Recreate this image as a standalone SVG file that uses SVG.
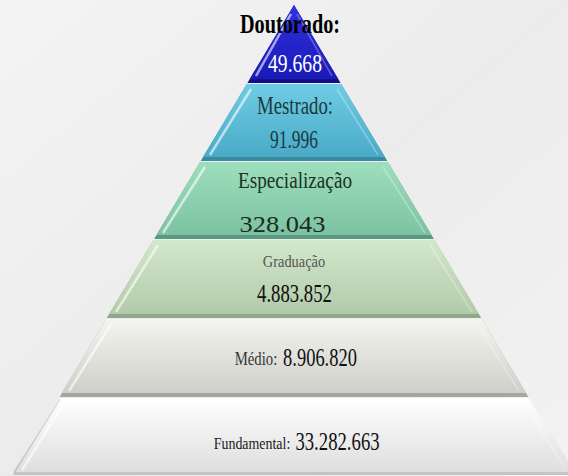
<svg xmlns="http://www.w3.org/2000/svg" width="568" height="476" viewBox="0 0 568 476">
<defs>
<linearGradient id="bg" x1="0" y1="0" x2="1" y2="1"><stop offset="0" stop-color="#f4f4f4"/><stop offset="0.5" stop-color="#ececec"/><stop offset="1" stop-color="#f2f2f2"/></linearGradient>
<linearGradient id="gBlue" x1="0" y1="0" x2="0" y2="1"><stop offset="0" stop-color="#3030e0"/><stop offset="1" stop-color="#1a1ab8"/></linearGradient>
<linearGradient id="gCyan" x1="0" y1="0" x2="0" y2="1"><stop offset="0" stop-color="#70cce4"/><stop offset="1" stop-color="#4aaac6"/></linearGradient>
<linearGradient id="gGreen" x1="0" y1="0" x2="0" y2="1"><stop offset="0" stop-color="#9edfbc"/><stop offset="1" stop-color="#7cc2a2"/></linearGradient>
<linearGradient id="gLight" x1="0" y1="0" x2="0" y2="1"><stop offset="0" stop-color="#d4e8cc"/><stop offset="1" stop-color="#b2caaa"/></linearGradient>
<linearGradient id="gGray" x1="0" y1="0" x2="0" y2="1"><stop offset="0" stop-color="#f4f4f0"/><stop offset="1" stop-color="#cfcfc9"/></linearGradient>
<linearGradient id="gWhite" x1="0" y1="0" x2="0" y2="1"><stop offset="0" stop-color="#ffffff"/><stop offset="1" stop-color="#dedede"/></linearGradient>
</defs>
<style>
text{font-family:"Liberation Serif","Times New Roman",serif;text-anchor:middle}
.hl{fill:none;stroke:#ffffff;stroke-opacity:0.6;stroke-width:2.5}
.hr{fill:none;stroke:#ffffff;stroke-opacity:0.3;stroke-width:1.5}
.sh{fill:none;stroke:#000000;stroke-opacity:0.12;stroke-width:1.5}
</style>
<rect x="0" y="0" width="568" height="476" fill="url(#bg)"/>

<g id="fundamental">
<polygon points="59,398 529,398 575.1,475 12.9,475" fill="#c4c4c4"/>
<polygon points="59,398 529,398 575.1,472 12.9,472" fill="url(#gWhite)"/>
<line x1="64" y1="403" x2="22" y2="470" class="hl"/>
<line x1="524" y1="403" x2="566" y2="470" class="hr"/>
<line x1="60" y1="399" x2="14" y2="473" class="sh"/>
<text transform="translate(252,449) scale(0.82,1)" font-size="17" fill="#222">Fundamental:</text>
<text transform="translate(337.5,450) scale(0.72,1)" font-size="26" fill="#111">33.282.663</text>
</g>

<g id="medio">
<polygon points="106.2,319 481.8,319 528.4,397 59.6,397" fill="#a6a6a0"/>
<polygon points="106.2,319 481.8,319 526,393 62,393" fill="url(#gGray)"/>
<line x1="111" y1="324" x2="69" y2="391" class="hl"/>
<line x1="477" y1="324" x2="519" y2="391" class="hr"/>
<text transform="translate(256,365) scale(0.82,1)" font-size="18" fill="#333">Médio:</text>
<text transform="translate(320,366) scale(0.71,1)" font-size="26" fill="#111">8.906.820</text>
</g>

<g id="graduacao">
<polygon points="153.5,240 434.5,240 481.2,318 106.8,318" fill="#8ea88a"/>
<polygon points="153.5,240 434.5,240 478.8,314 109.2,314" fill="url(#gLight)"/>
<line x1="158" y1="245" x2="116" y2="312" class="hl"/>
<line x1="430" y1="245" x2="472" y2="312" class="hr"/>
<text transform="translate(294,267) scale(0.9,1)" font-size="16" fill="#555">Graduação</text>
<text transform="translate(294.5,302) scale(0.75,1)" font-size="25" fill="#111">4.883.852</text>
</g>

<g id="especializacao">
<polygon points="200.1,162 387.9,162 433.9,239 154.1,239" fill="#5a9a80"/>
<polygon points="200.1,162 387.9,162 431.5,235 156.5,235" fill="url(#gGreen)"/>
<line x1="205" y1="167" x2="163" y2="233" class="hl"/>
<line x1="383" y1="167" x2="425" y2="233" class="hr"/>
<text transform="translate(295,188) scale(0.8,1)" font-size="24" fill="#1c3024">Especialização</text>
<text transform="translate(282.5,232) scale(1.1,1)" font-size="24" fill="#1c2a20">328.043</text>
</g>

<g id="mestrado">
<polygon points="246.8,84 341.2,84 387.3,161 200.7,161" fill="#3a8aa0"/>
<polygon points="246.8,84 341.2,84 384.9,157 203.1,157" fill="url(#gCyan)"/>
<line x1="251" y1="89" x2="210" y2="155" class="hl"/>
<line x1="337" y1="89" x2="378" y2="155" class="hr"/>
<text transform="translate(295,114) scale(0.75,1)" font-size="25" fill="#1a3a40">Mestrado:</text>
<text transform="translate(294,148) scale(0.7,1)" font-size="25" fill="#1a3a40">91.996</text>
</g>

<g id="doutorado">
<polygon points="294,5 340.6,83 247.4,83" fill="#10108a"/>
<polygon points="294,5 338.2,79 249.8,79" fill="url(#gBlue)"/>
<line x1="291" y1="14" x2="256" y2="76" class="hl" stroke-width="2"/>
<line x1="297" y1="14" x2="332" y2="76" class="hr"/>
<text transform="translate(290,33) scale(0.75,1)" font-size="27" font-weight="bold" fill="#000">Doutorado:</text>
<text transform="translate(295,72) scale(0.785,1)" font-size="25" fill="#ffffff">49.668</text>
</g>
</svg>
